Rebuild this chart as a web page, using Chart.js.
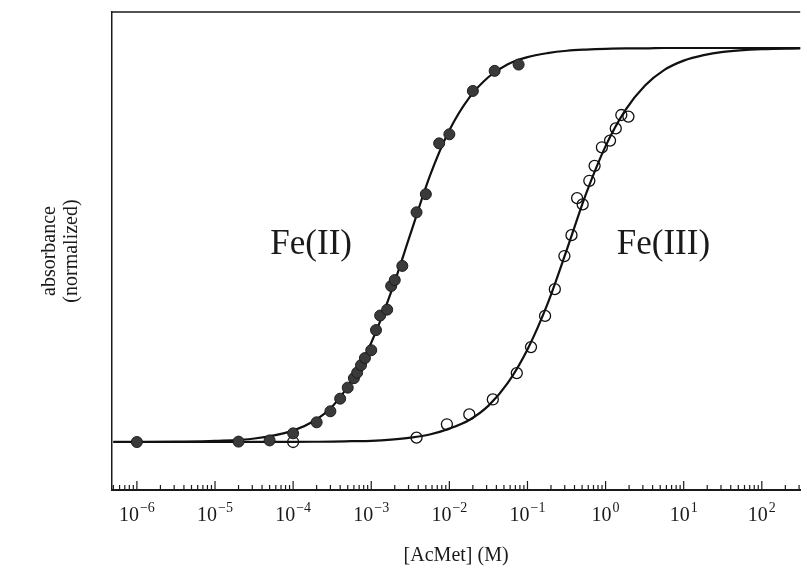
<!DOCTYPE html>
<html>
<head>
<meta charset="utf-8">
<script src="https://cdn.jsdelivr.net/npm/chart.js@4/dist/chart.umd.min.js"></script>
<style>
  html, body { margin: 0; padding: 0; background: #fff; overflow: hidden; }
  canvas { display: block; }
</style>
</head>
<body>
<canvas id="absChart" width="807" height="576"></canvas>
<script>
// decades labelled on the x axis (10^n)
const decades = [-6, -5, -4, -3, -2, -1, 0, 1, 2];

// Fe(II) measured points: [AcMet] (M) vs normalized absorbance
const fe2Conc = [1e-6, 2e-5, 5e-5, 1e-4, 2e-4, 3e-4, 4e-4, 5e-4, 6e-4, 6.6e-4, 7.4e-4, 8.3e-4, 1e-3,
                 1.15e-3, 1.3e-3, 1.6e-3, 1.8e-3, 2e-3, 2.5e-3, 3.8e-3, 5e-3, 7.4e-3, 1e-2, 2e-2, 3.8e-2, 7.7e-2];
const fe2Abs = [0.0, 0.001, 0.004, 0.022, 0.050, 0.078, 0.110, 0.138, 0.162, 0.176, 0.195, 0.213, 0.233,
                0.284, 0.321, 0.336, 0.396, 0.411, 0.447, 0.583, 0.629, 0.758, 0.781, 0.891, 0.942, 0.958];

// Fe(III) measured points
const fe3Conc = [1e-4, 3.8e-3, 9.3e-3, 1.8e-2, 3.6e-2, 7.3e-2, 0.111, 0.168, 0.224, 0.297,
                 0.366, 0.432, 0.509, 0.619, 0.723, 0.897, 1.14, 1.35, 1.59, 1.96];
const fe3Abs = [0.0, 0.011, 0.045, 0.070, 0.108, 0.175, 0.241, 0.320, 0.388, 0.472,
                0.525, 0.619, 0.603, 0.663, 0.701, 0.748, 0.765, 0.796, 0.830, 0.826];

// fitted curves at these concentrations
const fitConc = [5e-7, 1e-6, 3.2e-6, 1e-5, 3.2e-5, 1e-4, 1.8e-4, 3.2e-4, 5.6e-4, 1e-3, 1.8e-3, 3.2e-3, 5.6e-3,
                 1e-2, 1.8e-2, 3.2e-2, 5.6e-2, 0.1, 0.18, 0.32, 0.56, 1, 1.8, 3.2, 5.6, 10, 18, 32, 100, 320];
const fe2Fit = [0.0001, 0.0002, 0.0008, 0.0027, 0.0089, 0.029, 0.052, 0.091, 0.156, 0.252, 0.381, 0.530, 0.674,
                0.791, 0.874, 0.927, 0.959, 0.977, 0.987, 0.993, 0.996, 0.998, 0.999, 0.999, 1.0, 1.0, 1.0, 1.0, 1.0, 1.0];
const fe3Fit = [0.0, 0.0, 0.0, 0.0, 0.0001, 0.0003, 0.0006, 0.001, 0.002, 0.003, 0.006, 0.011, 0.019,
                0.034, 0.056, 0.093, 0.150, 0.235, 0.350, 0.489, 0.629, 0.751, 0.843, 0.905, 0.944, 0.968, 0.982, 0.990, 0.997, 0.999];

const serif = '"Liberation Serif", "Times New Roman", serif';
const ink = '#1a1a1a';

function pairs(xs, ys) {
    return xs.map((v, i) => ({ x: v, y: ys[i] }));
}

// frame top, inward ticks, 10^n labels and the two curve labels
const decorPlugin = {
    id: 'decor',
    afterDraw(chart) {
        const { ctx, chartArea: a, scales: { x, y } } = chart;
        ctx.save();
        ctx.strokeStyle = ink;
        ctx.fillStyle = ink;

        ctx.lineWidth = 1.5;
        ctx.beginPath();
        ctx.moveTo(a.left, a.top);
        ctx.lineTo(a.right, a.top);
        ctx.stroke();

        // ticks point up into the plot
        ctx.lineWidth = 1.2;
        decades.concat([-7]).forEach(d => {
            for (let m = 1; m <= 9; m++) {
                const px = x.getPixelForValue(m * Math.pow(10, d));
                if (px < a.left + 1 || px > a.right) continue;
                const len = m === 1 ? 9 : 5;
                ctx.beginPath();
                ctx.moveTo(px, a.bottom);
                ctx.lineTo(px, a.bottom - len);
                ctx.stroke();
            }
        });

        // 10^n labels
        const baseY = a.bottom + 31;
        decades.forEach(d => {
            const px = x.getPixelForValue(Math.pow(10, d));
            const exp = d < 0 ? '\u2212' + (-d) : String(d);
            ctx.font = '20px ' + serif;
            const w1 = ctx.measureText('10').width;
            ctx.font = '14px ' + serif;
            const w2 = ctx.measureText(exp).width;
            const start = px - (w1 + w2 + 1) / 2;
            ctx.textAlign = 'left';
            ctx.textBaseline = 'alphabetic';
            ctx.font = '20px ' + serif;
            ctx.fillText('10', start, baseY);
            ctx.font = '14px ' + serif;
            ctx.fillText(exp, start + w1 + 1, baseY - 9);
        });

        ctx.font = '35px ' + serif;
        ctx.textAlign = 'center';
        ctx.textBaseline = 'middle';
        ctx.fillText('Fe(II)', x.getPixelForValue(1.7e-4), y.getPixelForValue(0.5));
        ctx.fillText('Fe(III)', x.getPixelForValue(5.5), y.getPixelForValue(0.5));
        ctx.restore();
    }
};

Chart.defaults.font.family = serif;
Chart.defaults.color = ink;

const ctx = document.getElementById('absChart').getContext('2d');
const chart = new Chart(ctx, {
    type: 'scatter',
    data: {
        datasets: [
            {
                label: 'Fe(II)',
                data: pairs(fe2Conc, fe2Abs),
                backgroundColor: '#3a3a3a',
                borderColor: '#1c1c1c',
                borderWidth: 1,
                pointRadius: 5.5,
                order: 0
            },
            {
                label: 'Fe(III)',
                data: pairs(fe3Conc, fe3Abs),
                backgroundColor: 'rgba(255,255,255,0)',
                borderColor: '#111',
                borderWidth: 1.3,
                pointRadius: 5.5,
                order: 0
            },
            {
                label: 'Fe(II) fit',
                data: pairs(fitConc, fe2Fit),
                showLine: true,
                cubicInterpolationMode: 'monotone',
                borderColor: '#111',
                borderWidth: 2.2,
                pointRadius: 0,
                order: 1
            },
            {
                label: 'Fe(III) fit',
                data: pairs(fitConc, fe3Fit),
                showLine: true,
                cubicInterpolationMode: 'monotone',
                borderColor: '#111',
                borderWidth: 2.2,
                pointRadius: 0,
                order: 1
            }
        ]
    },
    options: {
        responsive: false,
        devicePixelRatio: 1,
        animation: false,
        layout: { padding: { top: 12, left: 0, right: 0, bottom: 0 } },
        plugins: {
            legend: { display: false },
            tooltip: { enabled: false }
        },
        scales: {
            x: {
                type: 'logarithmic',
                min: 4.8e-7,
                max: 310,
                grid: { display: false, drawTicks: false },
                border: { display: true, color: ink, width: 2 },
                ticks: { display: false },
                title: {
                    display: true,
                    text: '[AcMet] (M)',
                    font: { size: 20, lineHeight: 1.2 },
                    padding: { top: 54, bottom: 8 }
                }
            },
            y: {
                min: -0.1218,
                max: 1.0914,
                grid: { display: false, drawTicks: false },
                border: { display: true, color: ink, width: 1.5 },
                ticks: { display: false },
                title: {
                    display: true,
                    text: ['absorbance', '(normalized)'],
                    font: { size: 20, lineHeight: 1.1 },
                    padding: { top: 39, bottom: 29 }
                }
            }
        }
    },
    plugins: [decorPlugin]
});
</script>
</body>
</html>
